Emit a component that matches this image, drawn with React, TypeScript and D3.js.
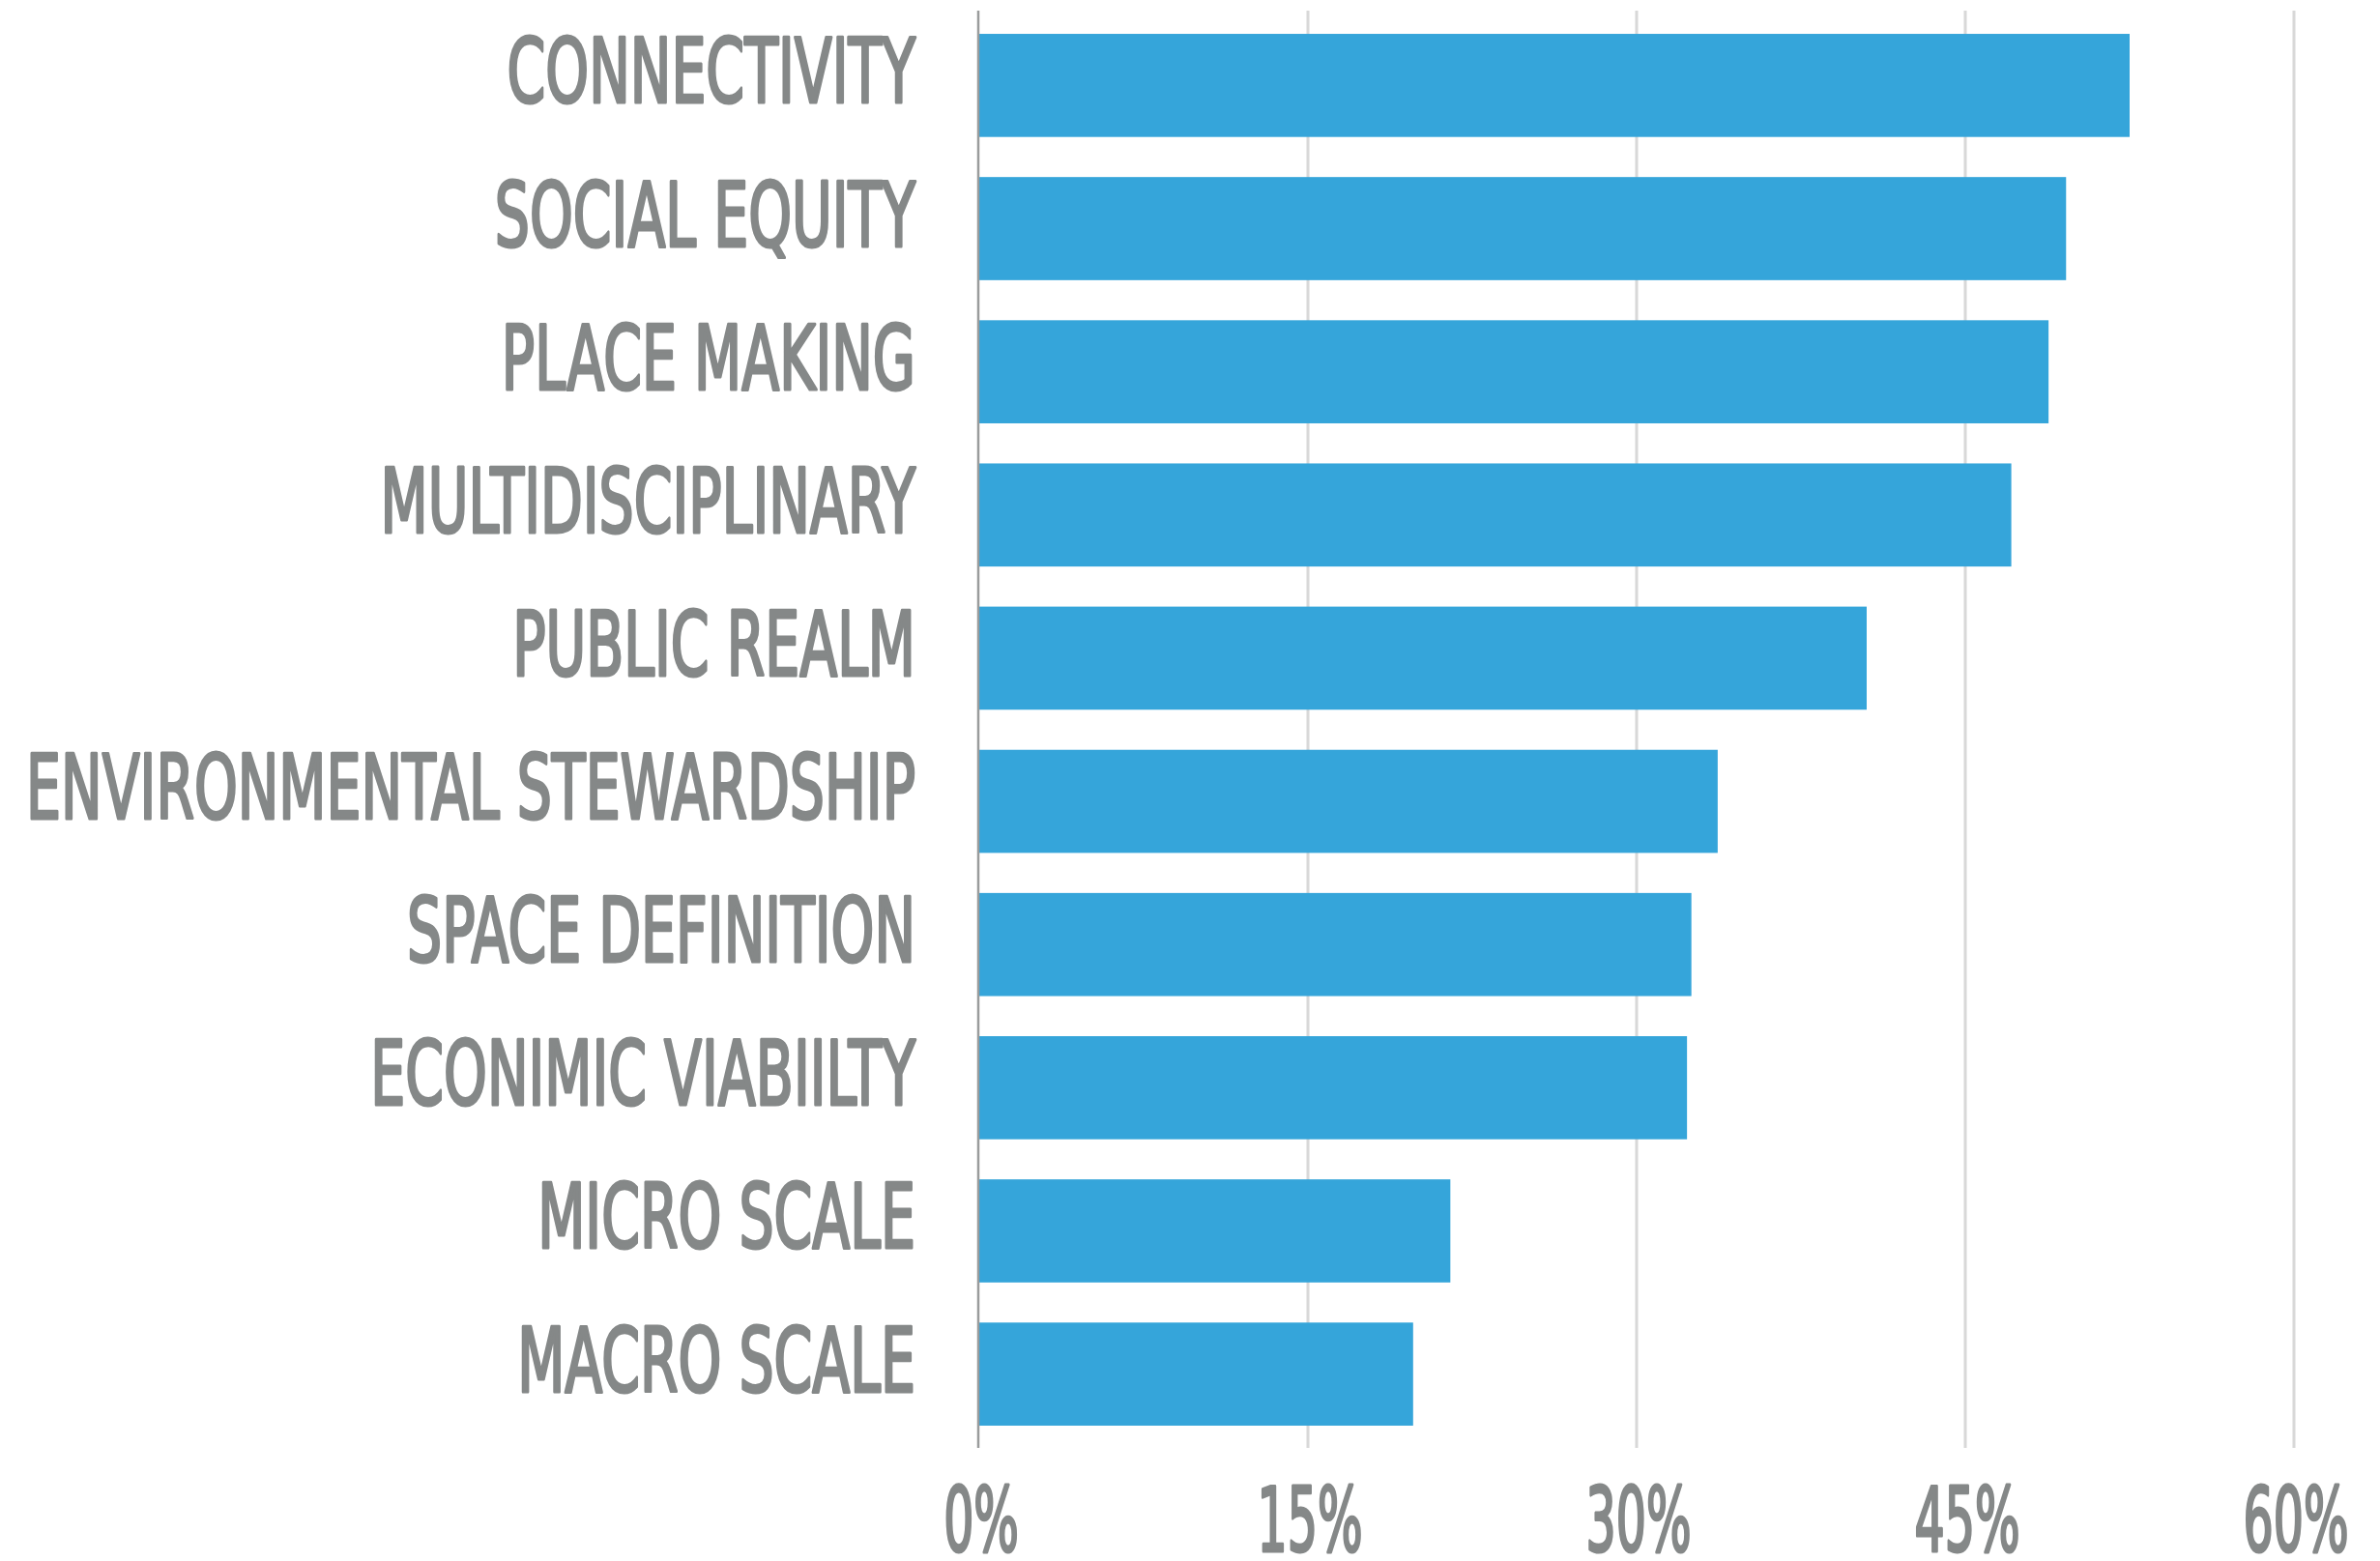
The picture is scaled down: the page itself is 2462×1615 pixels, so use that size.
import { useEffect, useRef } from "react";
import * as d3 from "d3";

const categories = [
  "CONNECTIVITY",
  "SOCIAL EQUITY",
  "PLACE MAKING",
  "MULTIDISCIPLINARY",
  "PUBLIC REALM",
  "ENVIRONMENTAL STEWARDSHIP",
  "SPACE DEFINITION",
  "ECONIMIC VIABIILTY",
  "MICRO SCALE",
  "MACRO SCALE",
];
const values = [52.5, 49.6, 48.8, 47.1, 40.5, 33.7, 32.5, 32.3, 21.5, 19.8];
const ticks = [0, 15, 30, 45, 60];

const WIDTH = 2462;
const HEIGHT = 1615;
const BAR = "#35a5da";
const TEXT = "#858888";
const FONT = "'DejaVu Sans Condensed', 'DejaVu Sans', sans-serif";

export default function App() {
  const svgRef = useRef<SVGSVGElement>(null);

  useEffect(() => {
    const draw = () => {
      if (!svgRef.current) return;
      const svg = d3.select(svgRef.current);
      svg.selectAll("*").remove();

      const x = d3.scaleLinear().domain([0, 60]).range([1013, 2373]);
      const y = d3
        .scaleBand<string>()
        .domain(categories)
        .range([14, 1496])
        .paddingInner(0.28)
        .paddingOuter(0.142);

      const gridTop = 11;
      const gridBottom = 1498;

      // vertical gridlines
      svg
        .append("g")
        .selectAll("line")
        .data(ticks.slice(1))
        .join("line")
        .attr("x1", (d) => x(d))
        .attr("x2", (d) => x(d))
        .attr("y1", gridTop)
        .attr("y2", gridBottom)
        .attr("stroke", "#d8d8d8")
        .attr("stroke-width", 3);

      // bars
      svg
        .append("g")
        .selectAll("rect")
        .data(values)
        .join("rect")
        .attr("x", x(0))
        .attr("y", (_, i) => y(categories[i])!)
        .attr("width", (d) => x(d) - x(0))
        .attr("height", y.bandwidth())
        .attr("fill", BAR);

      // zero axis line
      svg
        .append("line")
        .attr("x1", x(0) - 1)
        .attr("x2", x(0) - 1)
        .attr("y1", gridTop)
        .attr("y2", gridBottom)
        .attr("stroke", "#9a9c9c")
        .attr("stroke-width", 2.5);

      // category labels: book weight plus a thin stroke, squeezed so the
      // longest label fits the label column
      const labels = svg
        .append("g")
        .selectAll("text")
        .data(categories)
        .join("text")
        .text((d) => d)
        .attr("font-family", FONT)
        .attr("font-size", 93)
        .attr("fill", TEXT)
        .attr("stroke", TEXT)
        .attr("stroke-width", 3.2)
        .attr("stroke-linejoin", "round")
        .attr("text-anchor", "end");

      const widths = (labels.nodes() as SVGTextElement[]).map((n) => n.getComputedTextLength());
      const sx = 920 / (d3.max(widths) || 1);

      labels.attr(
        "transform",
        (d) => `translate(947, ${y(d)! + y.bandwidth() / 2 + 18}) scale(${sx}, 1)`
      );

      // tick labels (digits a bit narrower than the category labels)
      svg
        .append("g")
        .selectAll("text")
        .data(ticks)
        .join("text")
        .text((d) => `${d}%`)
        .attr("font-family", FONT)
        .attr("font-size", 93)
        .attr("fill", TEXT)
        .attr("stroke", TEXT)
        .attr("stroke-width", 3.2)
        .attr("stroke-linejoin", "round")
        .attr("text-anchor", "middle")
        .attr("transform", (d) => `translate(${x(d) + 2}, 1605) scale(${sx * 0.86}, 1)`);
    };

    if (document.fonts && document.fonts.ready) {
      document.fonts.ready.then(draw);
    } else {
      draw();
    }
  }, []);

  return (
    <div>
      <style>{`body { margin: 0; background: #ffffff; }`}</style>
      <svg
        ref={svgRef}
        width={WIDTH}
        height={HEIGHT}
        viewBox={`0 0 ${WIDTH} ${HEIGHT}`}
        style={{ display: "block" }}
      />
    </div>
  );
}
